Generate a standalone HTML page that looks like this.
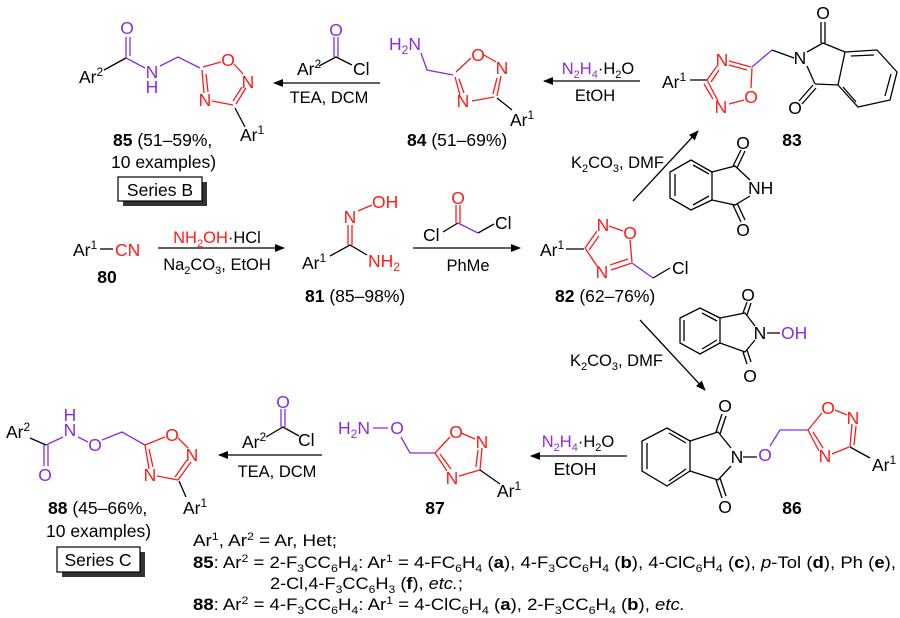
<!DOCTYPE html>
<html><head><meta charset="utf-8"><style>
html,body{margin:0;padding:0;background:#fff;}
svg{display:block;font-family:"Liberation Sans",sans-serif;}
.k{stroke:#000;stroke-width:1.3;fill:none}
.r{stroke:#ff1a1a;stroke-width:1.3;fill:none}
.p{stroke:#8a2be2;stroke-width:1.3;fill:none}
text{font-size:17.5px;fill:#000}
.tr{fill:#ff1a1a}
.tp{fill:#8a2be2}
.b{font-weight:bold}
.s{font-size:16.5px}
</style></head><body>
<svg width="900" height="618" viewBox="0 0 900 618" xmlns="http://www.w3.org/2000/svg">
<defs>
<marker id="ah" markerWidth="10" markerHeight="8" refX="9" refY="4" orient="auto" markerUnits="userSpaceOnUse"><path d="M0,0 L10,4 L0,8 Z" fill="#000"/></marker>
</defs>

<!-- ===== 85 ===== -->
<text x="79" y="83">Ar<tspan font-size="12" dy="-7">2</tspan></text>
<path class="k" d="M104,70 L126,58"/>
<path class="p" d="M126,58 L126,37 M130,56 L130,37 M126,58 L145,68 M160,66 L178,57 L200,68"/>
<text x="127" y="34" class="tp" text-anchor="middle">O</text>
<text x="152" y="78" class="tp" text-anchor="middle">N</text>
<text x="152" y="93" class="tp" text-anchor="middle">H</text>
<path class="r" d="M203,67 L221,62 M234,64 L243,74 M246,88 L236,104 M242,87 L233,101 M233,105 L212,101 M204,93 L202,70 M208,92 L206,74"/>
<text x="228" y="66" class="tr" text-anchor="middle">O</text>
<text x="248" y="88" class="tr" text-anchor="middle">N</text>
<text x="205" y="106" class="tr" text-anchor="middle">N</text>
<path class="k" d="M235,108 L245,127"/>
<text x="240" y="141">Ar<tspan font-size="12" dy="-7">1</tspan></text>
<text x="113" y="146"><tspan class="b">85</tspan> (51–59%,</text>
<text x="111" y="168">10 examples)</text>
<rect x="123" y="182" width="84" height="24" fill="#333"/>
<rect x="118" y="177" width="84" height="24" fill="#fff" stroke="#000" stroke-width="1.2"/>
<text x="160" y="196" text-anchor="middle">Series B</text>

<!-- arrow 84 -> 85 -->
<path class="k" d="M380,83 L274,83" marker-end="url(#ah)"/>
<text x="297" y="75">Ar<tspan font-size="12" dy="-7">2</tspan></text>
<path class="k" d="M319,66 L336,57 L352,65"/>
<path class="p" d="M334,57 L334,37 M338,57 L338,37"/>
<text x="336" y="36" class="tp" text-anchor="middle">O</text>
<text x="353" y="75">Cl</text>
<text x="329" y="103" text-anchor="middle" class="s">TEA, DCM</text>

<!-- ===== 84 ===== -->
<text x="389" y="50" class="tp">H<tspan font-size="12" dy="4">2</tspan><tspan dy="-4">N</tspan></text>
<path class="p" d="M421,53 L427,70 L453,75"/>
<path class="r" d="M456,72 L471,58 M484,55 L496,62 M501,76 L497,96 M497,78 L493,94 M494,97 L472,101 M460,95 L455,77 M464,93 L459,79"/>
<text x="478" y="61" class="tr" text-anchor="middle">O</text>
<text x="502" y="74" class="tr" text-anchor="middle">N</text>
<text x="463" y="107" class="tr" text-anchor="middle">N</text>
<path class="k" d="M497,98 L512,110"/>
<text x="510" y="126">Ar<tspan font-size="12" dy="-7">1</tspan></text>
<text x="407" y="146"><tspan class="b">84</tspan> (51–69%)</text>

<!-- arrow 83 -> 84 -->
<path class="k" d="M640,81 L544,81" marker-end="url(#ah)"/>
<text x="598" y="74" text-anchor="middle" class="s"><tspan class="tp">N<tspan font-size="11" dy="4">2</tspan><tspan dy="-4">H</tspan><tspan font-size="11" dy="4">4</tspan></tspan><tspan dy="-4">·H</tspan><tspan font-size="11" dy="4">2</tspan><tspan dy="-4">O</tspan></text>
<text x="595" y="101" text-anchor="middle" class="s">EtOH</text>

<!-- ===== 83 ===== -->
<text x="662" y="88">Ar<tspan font-size="12" dy="-7">1</tspan></text>
<path class="k" d="M690,80 L707,80"/>
<path class="r" d="M707,80 L717,66 M711,82 L719,70 M729,61 L751,67 M729,65 L747,70 M752,68 L751,88 M744,100 L729,104 M718,101 L707,80 M713,99 L704,84"/>
<text x="722" y="66" class="tr" text-anchor="middle">N</text>
<text x="751" y="103" class="tr" text-anchor="middle">O</text>
<text x="721" y="113" class="tr" text-anchor="middle">N</text>
<path class="p" d="M752,67 L772,50"/>
<path class="k" d="M772,50 L794,58 M807,52 L823,43 L845,52 M845,52 L838,85 L815,84 M807,66 L815,84 M821,43 L821,22 M825,43 L825,22 M813,85 L799,101 M816,88 L802,104"/>
<path class="k" d="M845,52 L877,50 L897,72 L890,100 L858,107 L838,85"/>
<path class="k" d="M851,56 L874,55 M891,74 L885,96 M856,102 L843,87"/>
<text x="800" y="64" text-anchor="middle">N</text>
<text x="823" y="19" text-anchor="middle">O</text>
<text x="795" y="114" text-anchor="middle">O</text>
<text x="792" y="146" text-anchor="middle" class="b">83</text>

<!-- ===== 80 ===== -->
<text x="73" y="256">Ar<tspan font-size="12" dy="-7">1</tspan></text>
<path class="k" d="M100,249 L113,249"/>
<text x="115" y="256" class="tr">CN</text>
<text x="107" y="283" text-anchor="middle" class="b">80</text>

<!-- arrow 80 -> 81 -->
<path class="k" d="M158,248 L284,248" marker-end="url(#ah)"/>
<text x="217" y="243" text-anchor="middle" class="s"><tspan class="tr">NH<tspan font-size="11" dy="4">2</tspan><tspan dy="-4">OH</tspan></tspan>·HCl</text>
<text x="217" y="270" text-anchor="middle" class="s">Na<tspan font-size="11" dy="4">2</tspan><tspan dy="-4">CO</tspan><tspan font-size="11" dy="4">3</tspan><tspan dy="-4">, EtOH</tspan></text>

<!-- ===== 81 ===== -->
<text x="302" y="269">Ar<tspan font-size="12" dy="-7">1</tspan></text>
<path class="k" d="M330,256 L350,245 L367,255"/>
<path class="r" d="M348,245 L348,225 M352,245 L352,225 M358,211 L372,205"/>
<text x="350" y="223" class="tr" text-anchor="middle">N</text>
<text x="372" y="208" class="tr">OH</text>
<text x="368" y="267" class="tr">NH<tspan font-size="12" dy="4">2</tspan></text>
<text x="305" y="302"><tspan class="b">81</tspan> (85–98%)</text>

<!-- arrow 81 -> 82 -->
<path class="k" d="M413,248 L520,248" marker-end="url(#ah)"/>
<text x="423" y="241">Cl</text>
<path class="k" d="M443,232 L458,223 M478,233 L494,224"/>
<path class="r" d="M456,223 L456,205 M460,223 L460,205"/>
<path class="p" d="M458,223 L478,233"/>
<text x="458" y="204" class="tr" text-anchor="middle">O</text>
<text x="495" y="229">Cl</text>
<text x="468" y="271" text-anchor="middle" class="s">PhMe</text>

<!-- ===== 82 ===== -->
<text x="540" y="256">Ar<tspan font-size="12" dy="-7">1</tspan></text>
<path class="k" d="M566,249 L584,249"/>
<path class="r" d="M585,248 L597,231 M589,250 L599,236 M609,226 L623,231 M630,240 L632,262 M632,263 L611,270 M628,259 L610,265 M597,266 L585,248"/>
<text x="603" y="231" class="tr" text-anchor="middle">N</text>
<text x="630" y="239" class="tr" text-anchor="middle">O</text>
<text x="602" y="278" class="tr" text-anchor="middle">N</text>
<path class="p" d="M632,263 L653,278"/>
<path class="k" d="M653,278 L670,268"/>
<text x="672" y="274">Cl</text>
<text x="555" y="302"><tspan class="b">82</tspan> (62–76%)</text>

<!-- arrow 82 -> 83 -->
<path class="k" d="M633,201 L698,131" marker-end="url(#ah)"/>
<text x="571" y="168" class="s">K<tspan font-size="11" dy="4">2</tspan><tspan dy="-4">CO</tspan><tspan font-size="11" dy="4">3</tspan><tspan dy="-4">, DMF</tspan></text>

<!-- phthalimide NH -->
<path class="k" d="M712,172 L735,166 L750,180 M750,196 L735,205 L712,200 M712,172 L712,200 M712,172 L691,160 L670,172 L670,198 L691,210 L712,200 M675,174 L675,196 M693,165 L709,174 M693,205 L709,196 M733,166 L741,150 M737,168 L745,151 M733,205 L741,222 M737,203 L745,220"/>
<text x="743" y="149" text-anchor="middle">O</text>
<text x="748" y="194">NH</text>
<text x="743" y="236" text-anchor="middle">O</text>

<!-- arrow 82 -> 86 -->
<path class="k" d="M640,320 L705,390" marker-end="url(#ah)"/>
<text x="570" y="366" class="s">K<tspan font-size="11" dy="4">2</tspan><tspan dy="-4">CO</tspan><tspan font-size="11" dy="4">3</tspan><tspan dy="-4">, DMF</tspan></text>

<!-- N-hydroxyphthalimide -->
<path class="k" d="M720,318 L745,313 L755,326 M755,340 L745,352 L720,343 M720,318 L720,343 M720,318 L700,308 L680,318 L680,343 L700,354 L720,343 M684,320 L684,341 M702,313 L717,321 M702,349 L717,340 M743,313 L747,302 M747,315 L751,303 M743,352 L747,364 M747,350 L751,362 M767,333 L780,333"/>
<text x="748" y="301" text-anchor="middle">O</text>
<text x="760" y="339" text-anchor="middle">N</text>
<text x="781" y="339" class="tp">OH</text>
<text x="750" y="382" text-anchor="middle">O</text>

<!-- ===== 86 ===== -->
<path class="k" d="M690,441 L718,432 L731,448 M731,466 L718,480 L690,471 M690,441 L690,471 M690,441 L667,428 L642,441 L642,471 L667,486 L690,471 M647,443 L647,469 M669,433 L686,443 M669,481 L686,469 M716,432 L722,414 M720,434 L726,416 M716,480 L722,498 M720,478 L726,496 M743,457 L757,457"/>
<text x="725" y="412" text-anchor="middle">O</text>
<text x="737" y="463" text-anchor="middle">N</text>
<text x="725" y="513" text-anchor="middle">O</text>
<text x="765" y="461" class="tp" text-anchor="middle">O</text>
<path class="p" d="M770,446 L780,430 L808,430"/>
<path class="r" d="M808,430 L822,413 M835,410 L847,415 M852,424 L850,447 M856,426 L854,445 M849,447 L832,454 M819,451 L808,430 M823,448 L813,432"/>
<text x="828" y="414" class="tr" text-anchor="middle">O</text>
<text x="853" y="424" class="tr" text-anchor="middle">N</text>
<text x="825" y="462" class="tr" text-anchor="middle">N</text>
<path class="k" d="M850,447 L870,458"/>
<text x="872" y="471">Ar<tspan font-size="12" dy="-7">1</tspan></text>
<text x="792" y="514" text-anchor="middle" class="b">86</text>

<!-- arrow 86 -> 87 -->
<path class="k" d="M627,456 L531,456" marker-end="url(#ah)"/>
<text x="578" y="447" text-anchor="middle" class="s"><tspan class="tp">N<tspan font-size="11" dy="4">2</tspan><tspan dy="-4">H</tspan><tspan font-size="11" dy="4">4</tspan></tspan><tspan dy="-4">·H</tspan><tspan font-size="11" dy="4">2</tspan><tspan dy="-4">O</tspan></text>
<text x="575" y="475" text-anchor="middle">EtOH</text>

<!-- ===== 87 ===== -->
<text x="338" y="434" class="tp">H<tspan font-size="12" dy="4">2</tspan><tspan dy="-4">N</tspan></text>
<path class="p" d="M373,428 L388,428 M401,437 L410,453 L435,453"/>
<text x="397" y="434" class="tp" text-anchor="middle">O</text>
<path class="r" d="M435,453 L450,437 M461,433 L475,439 M482,448 L480,470 M478,450 L476,467 M480,470 L459,476 M447,471 L435,453 M451,469 L440,454"/>
<text x="456" y="438" class="tr" text-anchor="middle">O</text>
<text x="482" y="448" class="tr" text-anchor="middle">N</text>
<text x="452" y="484" class="tr" text-anchor="middle">N</text>
<path class="k" d="M480,470 L500,484"/>
<text x="497" y="497">Ar<tspan font-size="12" dy="-7">1</tspan></text>
<text x="435" y="514" text-anchor="middle" class="b">87</text>

<!-- arrow 87 -> 88 -->
<path class="k" d="M322,455 L219,455" marker-end="url(#ah)"/>
<text x="242" y="448">Ar<tspan font-size="12" dy="-7">2</tspan></text>
<path class="k" d="M266,437 L283,427 L299,436"/>
<path class="p" d="M281,427 L281,409 M285,427 L285,409"/>
<text x="283" y="408" class="tp" text-anchor="middle">O</text>
<text x="298" y="446">Cl</text>
<text x="277" y="477" text-anchor="middle" class="s">TEA, DCM</text>

<!-- ===== 88 ===== -->
<text x="6" y="438">Ar<tspan font-size="12" dy="-7">2</tspan></text>
<path class="k" d="M30,438 L46,445"/>
<path class="p" d="M44,445 L44,466 M48,445 L48,466 M46,445 L63,437 M78,437 L88,442 M102,440 L122,432 L145,445"/>
<text x="45" y="481" class="tp" text-anchor="middle">O</text>
<text x="70" y="436" class="tp" text-anchor="middle">N</text>
<text x="70" y="421" class="tp" text-anchor="middle">H</text>
<text x="95" y="451" class="tp" text-anchor="middle">O</text>
<path class="r" d="M145,445 L165,437 M178,438 L188,448 M191,462 L178,480 M187,460 L175,477 M178,480 L157,476 M149,469 L145,445 M153,467 L149,449"/>
<text x="172" y="441" class="tr" text-anchor="middle">O</text>
<text x="192" y="461" class="tr" text-anchor="middle">N</text>
<text x="150" y="481" class="tr" text-anchor="middle">N</text>
<path class="k" d="M179,481 L186,497"/>
<text x="183" y="514">Ar<tspan font-size="12" dy="-7">1</tspan></text>
<text x="48" y="514"><tspan class="b">88</tspan> (45–66%,</text>
<text x="46" y="537">10 examples)</text>
<rect x="62" y="552" width="83" height="25" fill="#333"/>
<rect x="57" y="547" width="83" height="25" fill="#fff" stroke="#000" stroke-width="1.2"/>
<text x="98" y="566" text-anchor="middle">Series C</text>

<!-- footnote -->
<text x="193" y="546" class="s" textLength="144" lengthAdjust="spacingAndGlyphs">Ar<tspan font-size="11" dy="-6">1</tspan><tspan dy="6">, Ar</tspan><tspan font-size="11" dy="-6">2</tspan><tspan dy="6"> = Ar, Het;</tspan></text>
<text x="193" y="568" class="s" textLength="703" lengthAdjust="spacingAndGlyphs"><tspan class="b">85</tspan>: Ar<tspan font-size="11" dy="-6">2</tspan><tspan dy="6"> = 2-F</tspan><tspan font-size="11" dy="4">3</tspan><tspan dy="-4">CC</tspan><tspan font-size="11" dy="4">6</tspan><tspan dy="-4">H</tspan><tspan font-size="11" dy="4">4</tspan><tspan dy="-4">: Ar</tspan><tspan font-size="11" dy="-6">1</tspan><tspan dy="6"> = 4-FC</tspan><tspan font-size="11" dy="4">6</tspan><tspan dy="-4">H</tspan><tspan font-size="11" dy="4">4</tspan><tspan dy="-4"> (</tspan><tspan class="b">a</tspan>), 4-F<tspan font-size="11" dy="4">3</tspan><tspan dy="-4">CC</tspan><tspan font-size="11" dy="4">6</tspan><tspan dy="-4">H</tspan><tspan font-size="11" dy="4">4</tspan><tspan dy="-4"> (</tspan><tspan class="b">b</tspan>), 4-ClC<tspan font-size="11" dy="4">6</tspan><tspan dy="-4">H</tspan><tspan font-size="11" dy="4">4</tspan><tspan dy="-4"> (</tspan><tspan class="b">c</tspan>), <tspan font-style="italic">p</tspan>-Tol (<tspan class="b">d</tspan>), Ph (<tspan class="b">e</tspan>),</text>
<text x="270" y="589" class="s" textLength="193" lengthAdjust="spacingAndGlyphs">2-Cl,4-F<tspan font-size="11" dy="4">3</tspan><tspan dy="-4">CC</tspan><tspan font-size="11" dy="4">6</tspan><tspan dy="-4">H</tspan><tspan font-size="11" dy="4">3</tspan><tspan dy="-4"> (</tspan><tspan class="b">f</tspan>), <tspan font-style="italic">etc.</tspan>;</text>
<text x="193" y="610" class="s" textLength="492" lengthAdjust="spacingAndGlyphs"><tspan class="b">88</tspan>: Ar<tspan font-size="11" dy="-6">2</tspan><tspan dy="6"> = 4-F</tspan><tspan font-size="11" dy="4">3</tspan><tspan dy="-4">CC</tspan><tspan font-size="11" dy="4">6</tspan><tspan dy="-4">H</tspan><tspan font-size="11" dy="4">4</tspan><tspan dy="-4">: Ar</tspan><tspan font-size="11" dy="-6">1</tspan><tspan dy="6"> = 4-ClC</tspan><tspan font-size="11" dy="4">6</tspan><tspan dy="-4">H</tspan><tspan font-size="11" dy="4">4</tspan><tspan dy="-4"> (</tspan><tspan class="b">a</tspan>), 2-F<tspan font-size="11" dy="4">3</tspan><tspan dy="-4">CC</tspan><tspan font-size="11" dy="4">6</tspan><tspan dy="-4">H</tspan><tspan font-size="11" dy="4">4</tspan><tspan dy="-4"> (</tspan><tspan class="b">b</tspan>), <tspan font-style="italic">etc.</tspan></text>
</svg>
</body></html>
